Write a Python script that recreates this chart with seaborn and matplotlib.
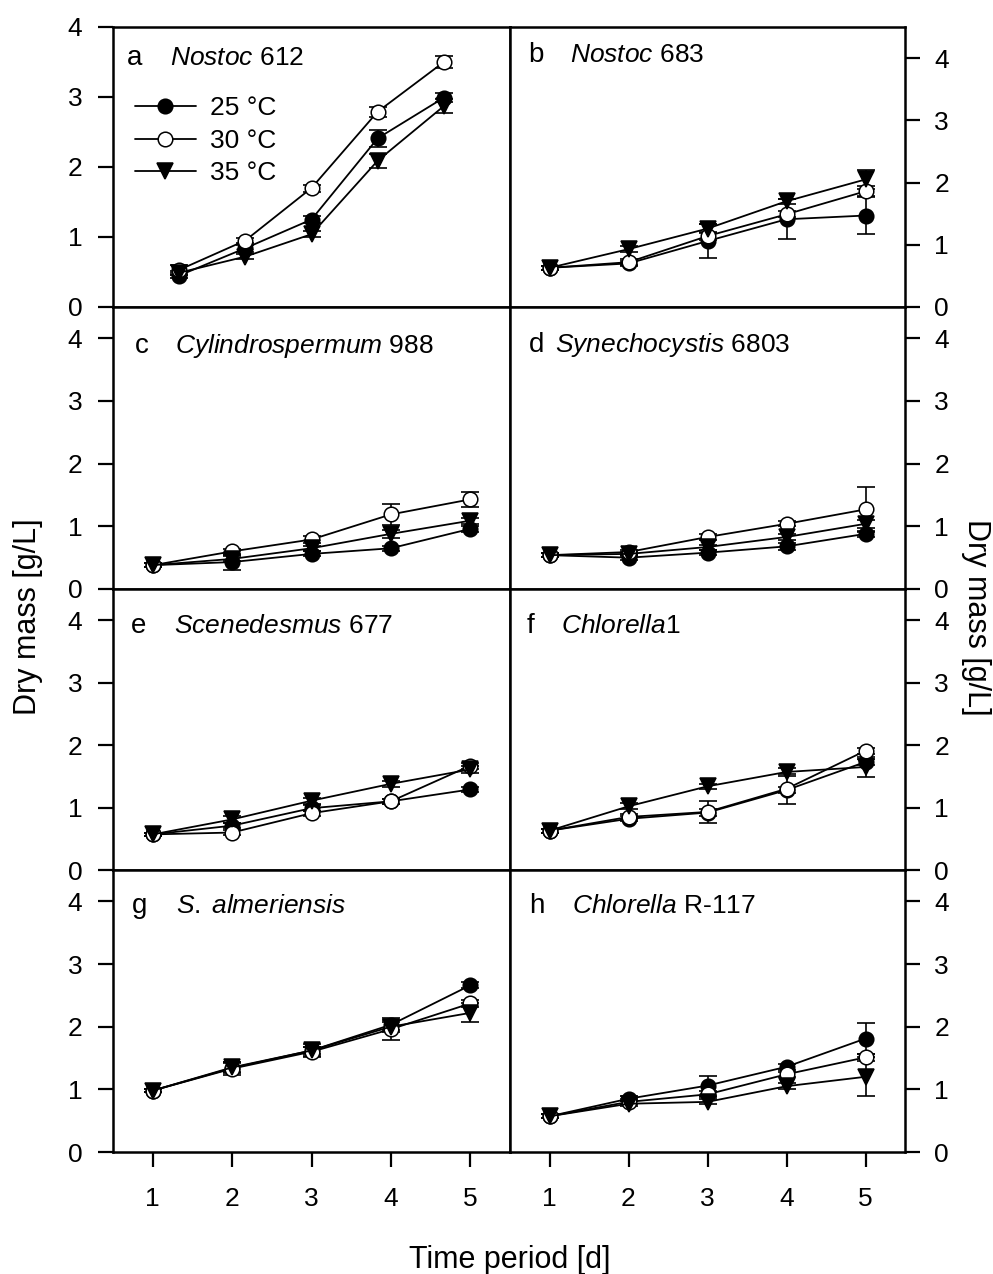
import matplotlib
matplotlib.use("Agg")
import matplotlib.pyplot as plt
import pandas as pd
import seaborn as sns

# ---- data -------------------------------------------------------------
days = [1, 2, 3, 4, 5]
temperatures = ["25 °C", "30 °C", "35 °C"]
panel_letters = ["a", "b", "c", "d", "e", "f", "g", "h"]
strain_names = [
    r"$\mathit{Nostoc}$ 612",
    r"$\mathit{Nostoc}$ 683",
    r"$\mathit{Cylindrospermum}$ 988",
    r"$\mathit{Synechocystis}$ 6803",
    r"$\mathit{Scenedesmus}$ 677",
    r"$\mathit{Chlorella}$1",
    r"$\mathit{S.\;almeriensis}$",
    r"$\mathit{Chlorella}$ R-117",
]

# dry mass [g/L], one list per temperature (25, 30, 35 °C)
nostoc612_mass = [[0.45, 0.84, 1.25, 2.41, 2.99],
                  [0.53, 0.95, 1.70, 2.79, 3.50],
                  [0.49, 0.72, 1.04, 2.09, 2.87]]
nostoc612_err = [[0.03, 0.05, 0.05, 0.12, 0.06],
                 [0.07, 0.04, 0.05, 0.07, 0.08],
                 [0.03, 0.04, 0.04, 0.10, 0.10]]

nostoc683_mass = [[0.63, 0.70, 1.06, 1.41, 1.47],
                  [0.63, 0.72, 1.14, 1.49, 1.86],
                  [0.63, 0.93, 1.26, 1.70, 2.05]]
nostoc683_err = [[0.03, 0.04, 0.28, 0.32, 0.30],
                 [0.03, 0.05, 0.06, 0.05, 0.08],
                 [0.03, 0.05, 0.07, 0.04, 0.15]]

cylindro988_mass = [[0.38, 0.43, 0.56, 0.65, 0.96],
                    [0.38, 0.60, 0.79, 1.19, 1.43],
                    [0.38, 0.48, 0.65, 0.88, 1.09]]
cylindro988_err = [[0.03, 0.12, 0.04, 0.04, 0.05],
                   [0.03, 0.04, 0.05, 0.17, 0.12],
                   [0.03, 0.04, 0.04, 0.06, 0.05]]

synecho6803_mass = [[0.54, 0.50, 0.58, 0.68, 0.88],
                    [0.54, 0.59, 0.83, 1.04, 1.27],
                    [0.54, 0.56, 0.67, 0.83, 1.04]]
synecho6803_err = [[0.03, 0.04, 0.04, 0.05, 0.05],
                   [0.03, 0.03, 0.05, 0.04, 0.36],
                   [0.03, 0.03, 0.04, 0.05, 0.06]]

scened677_mass = [[0.57, 0.71, 0.99, 1.10, 1.29],
                  [0.57, 0.60, 0.91, 1.10, 1.67],
                  [0.57, 0.81, 1.11, 1.38, 1.61]]
scened677_err = [[0.03, 0.04, 0.05, 0.04, 0.04],
                 [0.03, 0.04, 0.04, 0.04, 0.05],
                 [0.03, 0.05, 0.05, 0.05, 0.06]]

chlorella1_mass = [[0.63, 0.82, 0.92, 1.28, 1.73],
                   [0.63, 0.85, 0.93, 1.30, 1.91],
                   [0.63, 1.02, 1.34, 1.57, 1.65]]
chlorella1_err = [[0.03, 0.04, 0.05, 0.05, 0.05],
                  [0.03, 0.04, 0.17, 0.24, 0.05],
                  [0.03, 0.05, 0.04, 0.06, 0.16]]

almeriensis_mass = [[0.98, 1.34, 1.62, 2.03, 2.66],
                    [0.98, 1.33, 1.60, 1.96, 2.37],
                    [0.98, 1.35, 1.62, 2.00, 2.22]]
almeriensis_err = [[0.03, 0.08, 0.06, 0.08, 0.05],
                   [0.03, 0.10, 0.07, 0.18, 0.06],
                   [0.03, 0.08, 0.10, 0.08, 0.15]]

chlorellaR117_mass = [[0.57, 0.85, 1.06, 1.36, 1.81],
                      [0.57, 0.80, 0.92, 1.24, 1.51],
                      [0.57, 0.77, 0.80, 1.05, 1.20]]
chlorellaR117_err = [[0.03, 0.04, 0.16, 0.05, 0.25],
                     [0.03, 0.04, 0.05, 0.04, 0.05],
                     [0.03, 0.04, 0.04, 0.05, 0.31]]

all_mass = [nostoc612_mass, nostoc683_mass, cylindro988_mass, synecho6803_mass,
            scened677_mass, chlorella1_mass, almeriensis_mass, chlorellaR117_mass]
all_err = [nostoc612_err, nostoc683_err, cylindro988_err, synecho6803_err,
           scened677_err, chlorella1_err, almeriensis_err, chlorellaR117_err]

rows = []
for p, (m_set, e_set) in enumerate(zip(all_mass, all_err)):
    for t, temp in enumerate(temperatures):
        for d, m, e in zip(days, m_set[t], e_set[t]):
            rows.append({"panel": p, "temp": temp, "day": d, "mass": m, "err": e})
df = pd.DataFrame(rows)

# ---- style ------------------------------------------------------------
sns.set_style("ticks")
plt.rcParams["font.family"] = ["Liberation Sans", "DejaVu Sans"]
plt.rcParams["mathtext.fontset"] = "custom"
plt.rcParams["mathtext.rm"] = "Liberation Sans"
plt.rcParams["mathtext.it"] = "Liberation Sans:italic"
plt.rcParams["text.color"] = "black"
plt.rcParams["axes.labelcolor"] = "black"
plt.rcParams["xtick.color"] = "black"
plt.rcParams["ytick.color"] = "black"

FS = 19
LABEL_FS = 22
marker_styles = {
    "25 °C": dict(marker="o", markerfacecolor="black", markersize=10.5),
    "30 °C": dict(marker="o", markerfacecolor="white", markersize=10.5),
    "35 °C": dict(marker="v", markerfacecolor="black", markersize=12),
}

fig = plt.figure(figsize=(9.93, 12.74), dpi=100)

W, H = 993, 1274
col_x = [(113, 510), (510, 905)]
row_y = [(27, 307), (307, 589), (589, 870), (870, 1152)]

letter_x = [0.035, 0.046, 0.055, 0.048, 0.045, 0.043, 0.048, 0.048]
name_x = [0.144, 0.152, 0.156, 0.114, 0.154, 0.129, 0.159, 0.157]
title_y = [0.864, 0.875, 0.837, 0.840, 0.843, 0.843, 0.848, 0.848]

for p in range(8):
    r, c = divmod(p, 2)
    x0, x1 = col_x[c]
    y0, y1 = row_y[r]
    ax = fig.add_axes([x0 / W, 1 - y1 / H, (x1 - x0) / W, (y1 - y0) / H])
    sub = df[df["panel"] == p]
    for temp in temperatures:
        s = sub[sub["temp"] == temp]
        ax.errorbar(s["day"], s["mass"], yerr=s["err"], fmt="none",
                    ecolor="black", elinewidth=1.2, capsize=6.5, capthick=1.2,
                    zorder=2)
        sns.lineplot(data=s, x="day", y="mass", ax=ax, color="black",
                     linewidth=1.3, markeredgecolor="black",
                     markeredgewidth=1.1, label=temp, legend=False,
                     errorbar=None, zorder=3, **marker_styles[temp])

    if p == 0:
        ax.set_xlim(0, 6)
        ax.set_ylim(0, 4)
    else:
        ax.set_xlim(0.5, 5.5)
        ax.set_ylim(0, 4.5)
    ax.set_yticks([0, 1, 2, 3, 4])
    ax.set_xticks(days)
    ax.set_xlabel("")
    ax.set_ylabel("")

    for sp in ax.spines.values():
        sp.set_visible(True)
        sp.set_linewidth(1.8)
        sp.set_color("black")

    ax.tick_params(axis="both", direction="out", length=11, width=1.6,
                   labelsize=FS, colors="black")
    if c == 0:
        ax.tick_params(axis="y", left=True, right=False, labelleft=True,
                       labelright=False, pad=11)
    else:
        ax.tick_params(axis="y", left=False, right=True, labelleft=False,
                       labelright=True, pad=10)
    if r == 3:
        ax.tick_params(axis="x", bottom=True, labelbottom=True, pad=14)
    else:
        ax.tick_params(axis="x", bottom=False, labelbottom=False)

    ax.text(letter_x[p], title_y[p], panel_letters[p], transform=ax.transAxes,
            fontsize=FS + 1, va="baseline", ha="left", color="black")
    ax.text(name_x[p], title_y[p], strain_names[p], transform=ax.transAxes,
            fontsize=FS, va="baseline", ha="left", color="black")

    if p == 0:
        leg = ax.legend(loc="upper left", bbox_to_anchor=(0.055, 0.752),
                        frameon=False, fontsize=FS, handlelength=2.3,
                        handletextpad=0.55, labelspacing=0.32, borderpad=0,
                        borderaxespad=0)
        for txt in leg.get_texts():
            txt.set_color("black")

fig.text(28 / W, 1 - 617 / H, "Dry mass [g/L]", rotation=90, fontsize=LABEL_FS,
         ha="center", va="center", color="black")
fig.text(976 / W, 1 - 617 / H, "Dry mass [g/L]", rotation=270, fontsize=LABEL_FS,
         ha="center", va="center", color="black")
fig.text(510 / W, 1 - 1268 / H, "Time period [d]", fontsize=LABEL_FS,
         ha="center", va="baseline", color="black")

fig.savefig("out.png", dpi=100, facecolor="white")
